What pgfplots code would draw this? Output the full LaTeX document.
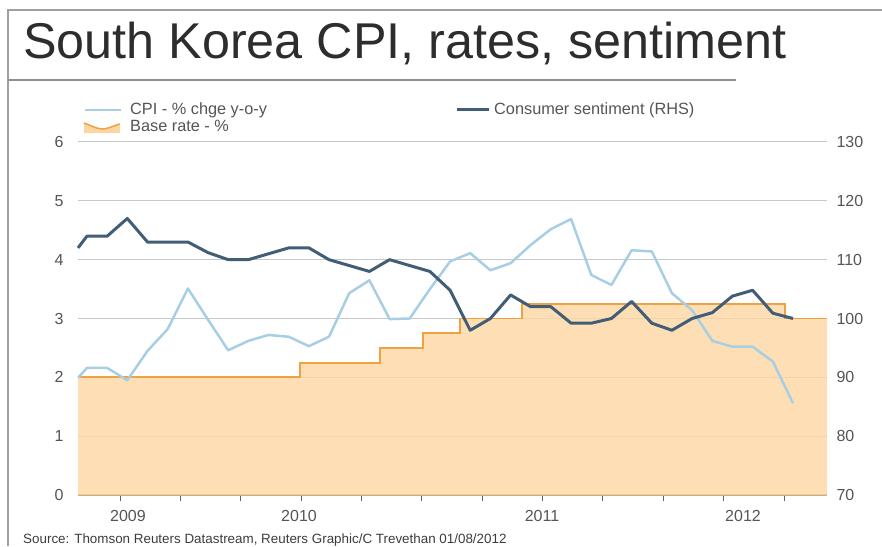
\documentclass[border=0pt]{standalone}
\usepackage{fontspec}
\setmainfont{Liberation Sans}
\usepackage{pgfplots}
\usepackage{pgfplotstable}
\pgfplotsset{compat=1.18}
\definecolor{cpi}{RGB}{168,206,228}
\definecolor{sent}{RGB}{66,94,118}
\definecolor{ratefill}{RGB}{252,214,162}
\definecolor{rateline}{RGB}{240,162,66}
\definecolor{gridc}{RGB}{200,200,200}
\definecolor{txt}{RGB}{85,85,85}
\definecolor{titlec}{RGB}{45,45,45}
\definecolor{srcc}{RGB}{60,60,60}
\definecolor{framec}{RGB}{160,160,160}
\definecolor{axisc}{RGB}{200,168,122}

\pgfplotstableread{
x y
78 2.0
300 2.25
380 2.5
423 2.75
460 3.0
522 3.25
785 3.0
827 3.0
}\rate

\pgfplotstableread{
x y
78 1.99
87.0 2.16
107.2 2.16
127.3 1.95
147.5 2.45
167.7 2.82
187.9 3.51
208.0 2.98
228.2 2.46
248.4 2.62
268.5 2.72
288.7 2.69
308.9 2.53
329.0 2.69
349.2 3.43
369.4 3.65
389.6 2.99
409.7 3.00
429.9 3.50
450.1 3.97
470.2 4.11
490.4 3.82
510.6 3.94
530.7 4.25
550.9 4.52
571.1 4.69
591.3 3.74
611.4 3.57
631.6 4.16
651.8 4.14
671.9 3.43
692.1 3.14
712.3 2.62
732.4 2.52
752.6 2.52
772.8 2.27
793.0 1.56
}\cpidata

\pgfplotstableread{
x y
78 112
87.0 114
107.2 114
127.3 117
147.5 113
167.7 113
187.9 113
208.0 111.2
228.2 110
248.4 110
268.5 111
288.7 112
308.9 112
329.0 110
349.2 109
369.4 108
389.6 110
409.7 109
429.9 108
450.1 104.8
470.2 98
490.4 100
510.6 104
530.7 102
550.9 102
571.1 99.2
591.3 99.2
611.4 100
631.6 102.9
651.8 99.2
671.9 98
692.1 100
712.3 101
732.4 103.8
752.6 104.8
772.8 100.9
793.0 100
}\sentdata

\begin{document}
\begin{tikzpicture}[x=1pt,y=1pt]
\path[use as bounding box] (0,0) rectangle (882,546);
% frame
\draw[framec, line width=1.5pt] (8,0) -- (8,536) -- (882,536);
\draw[framec!90!black, line width=1.5pt] (8,466) -- (736,466);
% title
\node[anchor=base west, inner sep=0, font=\fontsize{50.3}{56}\selectfont, text=titlec] at (23,487) {South Korea CPI, rates, sentiment};

\begin{axis}[
  at={(78pt,51pt)}, anchor=south west, scale only axis,
  width=749pt, height=353pt,
  xmin=78, xmax=827, ymin=0, ymax=6,
  axis x line*=bottom, axis y line*=left,
  y axis line style={draw=none},
  x axis line style={axisc, line width=2pt},
  ytick={0,1,2,3,4,5,6},
  ymajorgrids, grid style={gridc, line width=1pt},
  ytick style={draw=none},
  xtick={120,180.4,240.7,301.1,361.4,421.8,482.2,542.5,602.9,663.3,723.6,784},
  xticklabels={,,,,,,,,,,,},
  extra x ticks={128,299,542,743},
  extra x tick labels={2009,2010,2011,2012},
  extra x tick style={major tick style={draw=none}, xticklabel style={yshift=-6pt}},
  xtick style={gray!75!black, line width=1pt},
  tick align=outside, xtick pos=bottom,
  major tick length=6pt,
  ticklabel style={font=\fontsize{16}{18}\selectfont, text=txt},
  /pgf/number format/assume math mode=true,
  yticklabel style={xshift=-5pt},
  clip=false,
]
\addplot[draw=none, fill=ratefill, fill opacity=0.8, const plot] table {\rate} \closedcycle;
\addplot[rateline, line width=1.8pt, const plot] table {\rate};
\addplot[cpi, line width=2.5pt, line join=round] table {\cpidata};
\end{axis}

\begin{axis}[
  at={(78pt,51pt)}, anchor=south west, scale only axis,
  width=749pt, height=353pt,
  xmin=78, xmax=827, ymin=70, ymax=130,
  axis x line=none, axis y line*=right,
  y axis line style={draw=none},
  ytick={70,80,90,100,110,120,130},
  ytick style={draw=none},
  tick align=outside, major tick length=6pt,
  ticklabel style={font=\fontsize{16}{18}\selectfont, text=txt},
  /pgf/number format/assume math mode=true,
  clip=false,
]
\addplot[sent, line width=3pt, line join=round] table {\sentdata};
\end{axis}

% legend
\draw[cpi, line width=2.2pt] (85,436) -- (121,436);
\node[anchor=base west, inner sep=0, font=\fontsize{16.3}{18}\selectfont, text=txt] at (130,431) {CPI - \% chge y-o-y};
\fill[ratefill] (84,413) -- (84,423) .. controls (95,419) and (100,415) .. (108,418) .. controls (112,419) and (116,421) .. (120,422) -- (120,413) -- cycle;
\draw[rateline, line width=1.5pt] (84,423) .. controls (95,419) and (100,415) .. (108,418) .. controls (112,419) and (116,421) .. (120,422);
\node[anchor=base west, inner sep=0, font=\fontsize{16.3}{18}\selectfont, text=txt] at (130,414) {Base rate - \%};
\draw[sent, line width=3pt] (457,436) -- (489,436);
\node[anchor=base west, inner sep=0, font=\fontsize{16.3}{18}\selectfont, text=txt] at (494,431) {Consumer sentiment (RHS)};
% source
\node[anchor=base west, inner sep=0, font=\fontsize{13.4}{15}\selectfont, text=srcc] at (23,3) {Source: Thomson Reuters Datastream, Reuters Graphic/C Trevethan 01/08/2012};
\end{tikzpicture}
\end{document}
